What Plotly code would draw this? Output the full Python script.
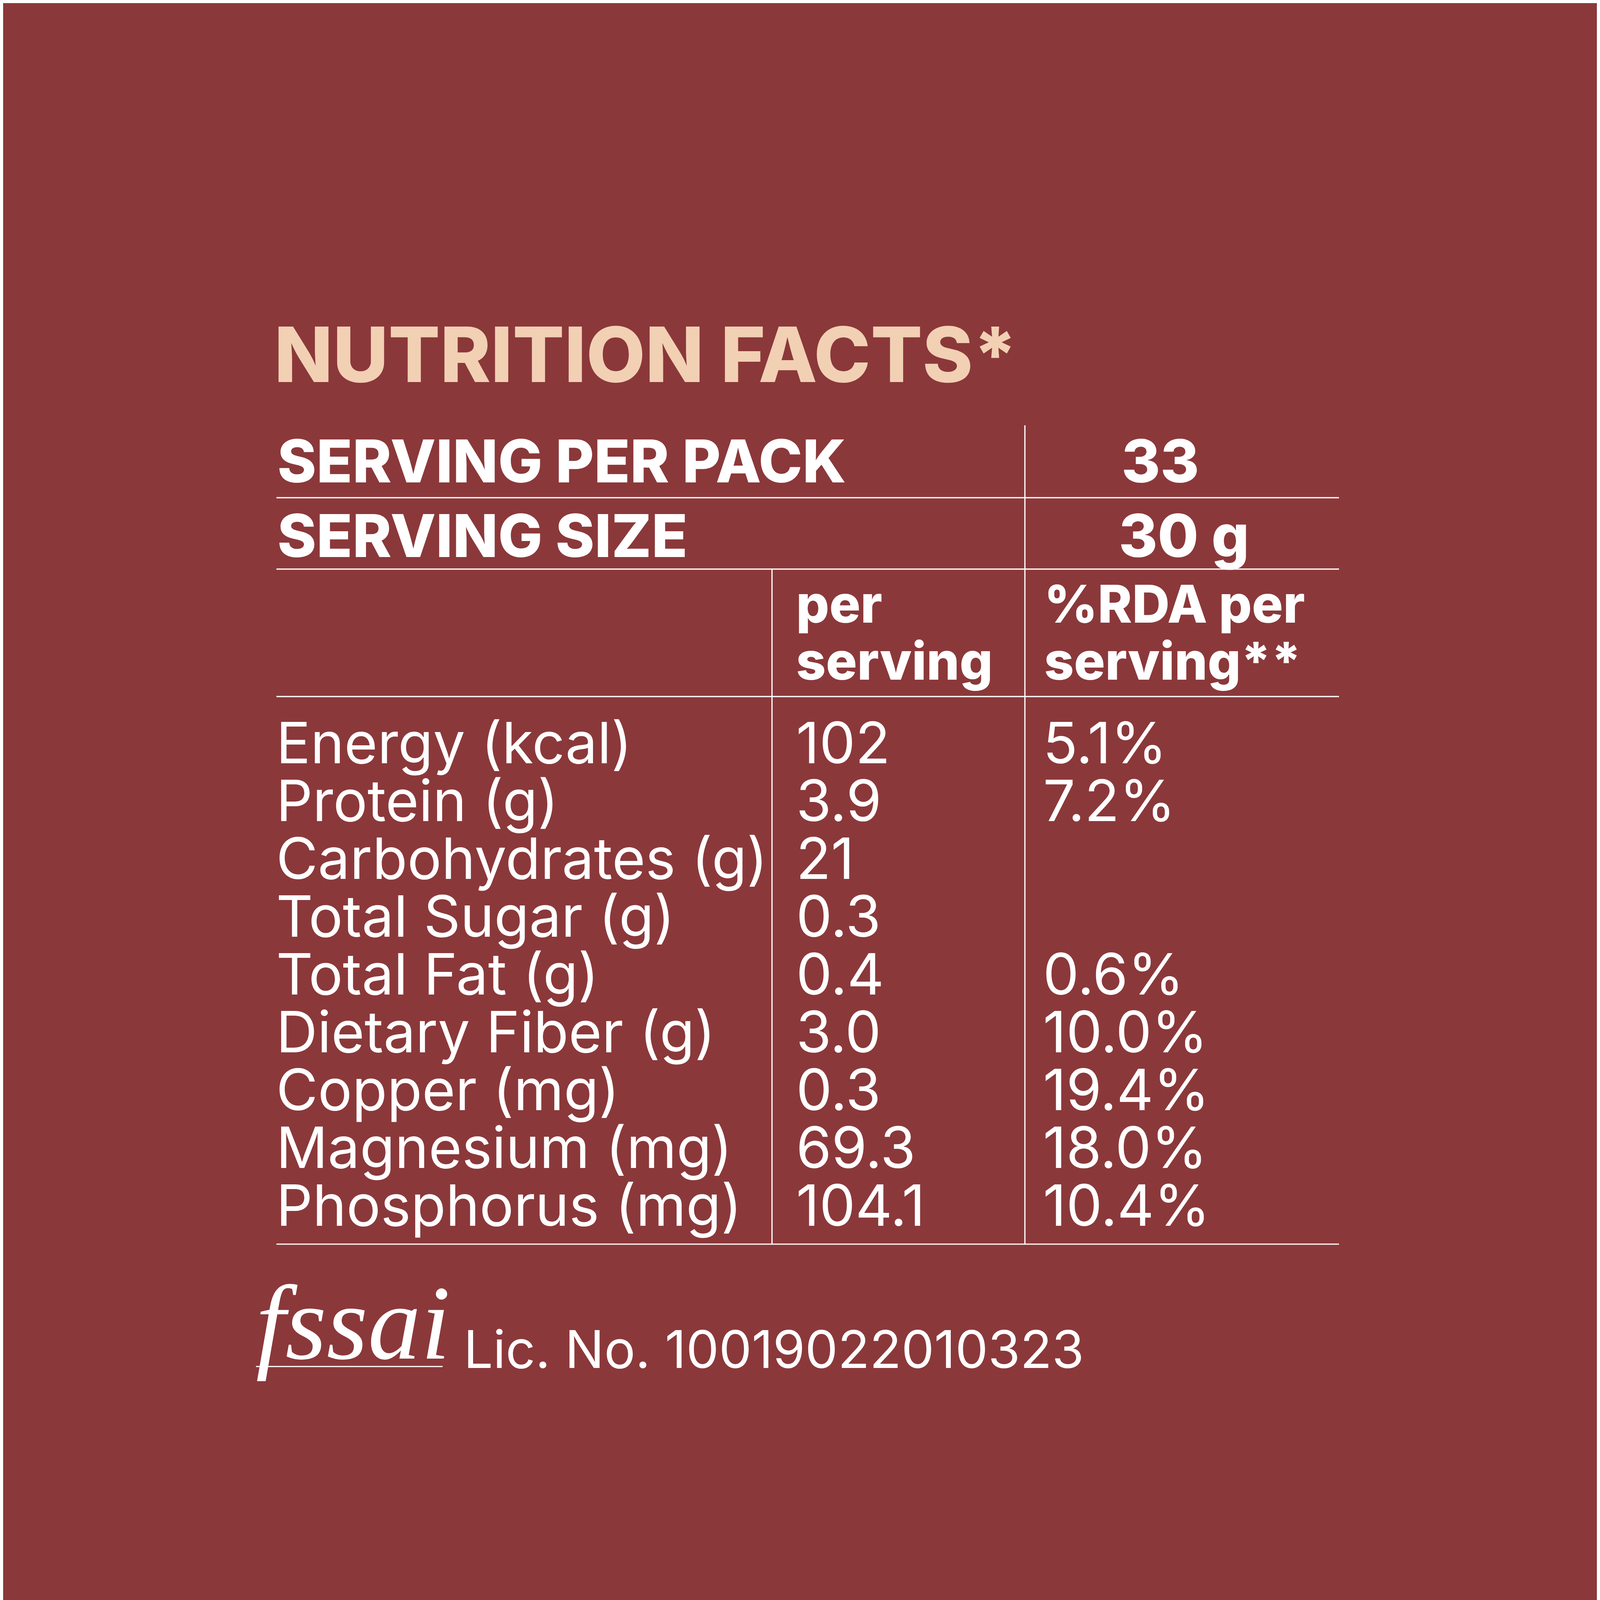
import plotly.graph_objects as go

BG = "#8B383A"
PEACH = "#F2D0B4"
WHITE = "#FFFFFF"
S = 4167 / 1568 / 1.018  # reference drawn on a 1568 grid

title = "NUTRITION FACTS*"
pack_label, pack_value = "SERVING PER PACK", "33"
size_label, size_value = "SERVING SIZE", "30 g"
col_heads = [["per", "serving"], ["%RDA per", "serving**"]]
nutrients = ["Energy (kcal)", "Protein (g)", "Carbohydrates (g)", "Total Sugar (g)",
             "Total Fat (g)", "Dietary Fiber (g)", "Copper (mg)", "Magnesium (mg)",
             "Phosphorus (mg)"]
per_serving = ["102", "3.9", "21", "0.3", "0.4", "3.0", "0.3", "69.3", "104.1"]
rda = ["5.1%", "7.2%", "", "", "0.6%", "10.0%", "19.4%", "18.0%", "10.4%"]
licence = "Lic. No. 10019022010323"

fig = go.Figure()
ann = []


def txt(x, y, t, size, color=WHITE, weight="normal", xanchor="left", family="Inter", style="normal"):
    ann.append(dict(x=x, y=y, xref="x", yref="y", text=t, showarrow=False,
                    xanchor=xanchor, yanchor="middle", align="left",
                    font=dict(family=family, size=size * S, color=color,
                              weight=weight, style=style)))


txt(262, 342, title, 75, PEACH, 800)
txt(265, 447, pack_label, 58, weight=800)
txt(1132, 447, pack_value, 58, weight=800, xanchor="center")
txt(265, 520, size_label, 58, weight=800)
txt(1155, 520, size_value, 58, weight=800, xanchor="center")
for x, head in zip([774, 1017], col_heads):
    txt(x, 587, head[0], 51, weight=800)
    txt(x, 643, head[1], 51, weight=800)

y0, step = 723, 56.7
for i, (n, p, r) in enumerate(zip(nutrients, per_serving, rda)):
    y = y0 + i * step
    txt(264, y, n, 56)
    txt(774, y, p, 56)
    txt(1016, y, r, 56)

txt(244, 1292, "fssai", 104, family="Liberation Serif", style="italic")
txt(448, 1318, licence, 51)

line = dict(color=WHITE, width=1.2 * S)
shapes = [
    dict(type="line", x0=265, x1=1307, y0=483, y1=483, line=line),
    dict(type="line", x0=265, x1=1307, y0=553, y1=553, line=line),
    dict(type="line", x0=265, x1=1307, y0=678, y1=678, line=line),
    dict(type="line", x0=265, x1=1307, y0=1215, y1=1215, line=line),
    dict(type="line", x0=999, x1=999, y0=412, y1=1215, line=line),
    dict(type="line", x0=751, x1=751, y0=553, y1=1215, line=line),
    dict(type="line", x0=245, x1=428, y0=1335, y1=1335, line=line),
]
for s in shapes:
    s.update(xref="x", yref="y")

fig.update_layout(
    width=4167, height=4167, margin=dict(l=0, r=0, t=0, b=0),
    paper_bgcolor=BG, plot_bgcolor=BG, showlegend=False,
    xaxis=dict(range=[-3, 1568 * 1.018 - 3], visible=False),
    yaxis=dict(range=[1568 * 1.018 - 2, -2], visible=False),
    annotations=ann, shapes=shapes,
)
fig.write_html("out.html")
